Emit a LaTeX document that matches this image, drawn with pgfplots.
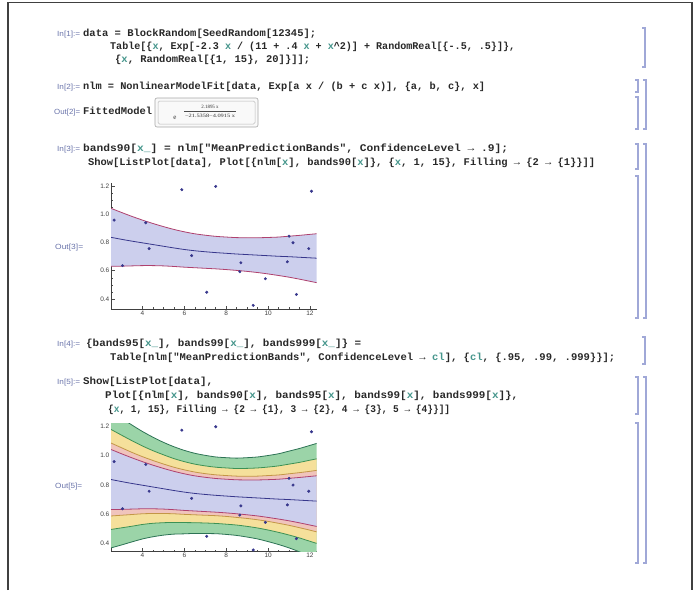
\documentclass[border=0pt]{standalone}
\usepackage{fontspec}
\setmainfont{Liberation Sans}
\setmonofont{Liberation Mono}
\newfontfamily\serifnum{Liberation Serif}
\usepackage{graphicx}
\usepackage{pgfplots}
\pgfplotsset{compat=1.18}
\usepackage{pgfplotstable}
\usepgfplotslibrary{fillbetween}

\definecolor{codecol}{RGB}{40,40,40}
\definecolor{varcol}{RGB}{70,150,140}
\definecolor{labcol}{RGB}{105,115,170}
\definecolor{brcol}{RGB}{160,168,215}
\definecolor{ptcol}{RGB}{55,55,140}
\definecolor{cln}{RGB}{55,55,140}
\definecolor{l90}{RGB}{175,65,110}
\definecolor{l95}{RGB}{195,150,70}
\definecolor{l99}{RGB}{60,145,85}
\definecolor{l999}{RGB}{45,115,85}
\definecolor{fblue}{RGB}{204,207,237}
\definecolor{fpink}{RGB}{240,196,188}
\definecolor{fyellow}{RGB}{245,224,155}
\definecolor{fgreen}{RGB}{155,212,168}

\pgfplotstableread{
x y
2.65 0.958
3.05 0.636
4.16 0.939
4.32 0.756
5.88 1.173
6.35 0.707
7.07 0.448
7.50 1.196
8.70 0.656
8.65 0.593
9.29 0.355
9.87 0.543
10.92 0.663
11.00 0.844
11.19 0.798
11.35 0.432
11.94 0.756
12.07 1.162
}\pts

\pgfplotstableread{
x f u90 l90 u95 l95 u99 l99 u999 l999
2.5 0.836 1.041 0.631 1.085 0.587 1.178 0.495 1.303 0.369
3.0 0.822 1.012 0.632 1.053 0.592 1.139 0.506 1.255 0.389
3.5 0.809 0.984 0.634 1.021 0.597 1.101 0.517 1.208 0.410
4.0 0.797 0.958 0.636 0.992 0.602 1.065 0.529 1.164 0.430
4.5 0.785 0.934 0.636 0.966 0.604 1.033 0.537 1.125 0.445
5.0 0.773 0.912 0.634 0.942 0.604 1.005 0.541 1.090 0.456
5.5 0.761 0.892 0.630 0.920 0.602 0.979 0.543 1.060 0.463
6.0 0.750 0.875 0.625 0.902 0.598 0.958 0.542 1.035 0.465
6.5 0.741 0.861 0.621 0.887 0.595 0.941 0.541 1.015 0.468
7.0 0.734 0.851 0.617 0.876 0.592 0.929 0.539 1.001 0.467
7.5 0.728 0.843 0.613 0.868 0.589 0.920 0.536 0.990 0.466
8.0 0.723 0.838 0.608 0.863 0.584 0.915 0.531 0.985 0.461
8.5 0.718 0.834 0.602 0.859 0.577 0.911 0.525 0.982 0.454
9.0 0.714 0.833 0.595 0.858 0.570 0.912 0.516 0.985 0.443
9.5 0.710 0.833 0.587 0.859 0.561 0.915 0.505 0.990 0.430
10.0 0.706 0.835 0.577 0.863 0.550 0.921 0.491 1.000 0.412
10.5 0.702 0.838 0.566 0.867 0.537 0.929 0.475 1.012 0.392
11.0 0.699 0.844 0.554 0.875 0.523 0.941 0.457 1.030 0.369
11.5 0.695 0.850 0.540 0.883 0.507 0.953 0.437 1.048 0.342
12.0 0.691 0.857 0.525 0.892 0.490 0.968 0.414 1.069 0.313
12.5 0.687 0.864 0.510 0.902 0.472 0.982 0.392 1.090 0.284
}\bands

\newcommand{\tv}[1]{\textcolor{varcol}{#1}}
\newcommand{\code}[4]{\node[anchor=mid west,inner sep=0pt,text=codecol,font=\fontsize{10.3}{12}\selectfont] at (#1bp,-#2bp) {\resizebox{#3bp}{\height}{\ttfamily\bfseries\fontsize{10.3}{12}\selectfont #4}};}
\newcommand{\lab}[4]{\node[anchor=mid west,inner sep=0pt,text=labcol,font=\fontsize{7.5}{8}\selectfont] at (#1bp,-#2bp) {\resizebox{#3bp}{\height}{#4}};}
\newcommand{\brk}[3]{\draw[brcol,line width=2.4bp] (#1bp-3bp,-#2bp) -- (#1bp,-#2bp) -- (#1bp,-#3bp) -- (#1bp-3bp,-#3bp);}

\pgfplotsset{mma/.style={
  scale only axis, anchor=south west,
  xmin=2.5, xmax=12.32,
  axis lines*=left,
  axis line style={black!75,line width=0.7bp},
  tick style={black!70,line width=0.5bp},
  tick align=inside,
  major tick length=3.5bp, minor tick length=2bp,
  xtick={4,6,8,10,12}, ytick={0.4,0.6,0.8,1.0,1.2},
  minor x tick num=3, minor y tick num=3,
  tick label style={font=\fontsize{6.5}{7}\selectfont, text=black!75, inner sep=1.5pt},
  /pgf/number format/assume math mode=true,
  yticklabel style={/pgf/number format/.cd, fixed, fixed zerofill, precision=1},
  clip=true,
}}

\begin{document}
\begin{tikzpicture}
\path (0,0) rectangle (698bp,-590bp);
\draw[black!75,line width=1.3bp] (8bp,-590bp) -- (8bp,-2.7bp) -- (692bp,-2.7bp) -- (692bp,-590bp);

% cell 1
\lab{57}{34}{23}{In[1]:=}
\code{83}{34}{233}{data = BlockRandom[SeedRandom[12345];}
\code{110}{47}{405}{Table[\{\tv{x}, Exp[-2.3 \tv{x} / (11 + .4 \tv{x} + \tv{x}\^{}2)] + RandomReal[\{-.5, .5\}]\},}
\code{115}{60}{195}{\{\tv{x}, RandomReal[\{1, 15\}, 20]\}]];}
% cell 2
\lab{57}{87}{23}{In[2]:=}
\code{83}{87}{402}{nlm = NonlinearModelFit[data, Exp[a x / (b + c x)], \{a, b, c\}, x]}
\lab{54}{112}{26}{Out[2]=}
\code{83}{112}{69}{FittedModel}
\draw[gray!70,line width=0.6bp,rounded corners=2bp,fill=gray!5] (155bp,-98bp) rectangle (258bp,-127bp);
\draw[gray!55,line width=0.5bp,rounded corners=1.5bp] (158bp,-101bp) rectangle (255bp,-124bp);
\node[font=\serifnum\fontsize{7}{8}\selectfont,text=black!80,inner sep=0pt] at (175bp,-118bp) {e};
\node[font=\serifnum\fontsize{5}{6}\selectfont,text=black!80,inner sep=0pt] at (210bp,-107bp) {2.1895 x};
\draw[black!70,line width=0.3bp] (184bp,-111bp) -- (236bp,-111bp);
\node[font=\serifnum\fontsize{5}{6}\selectfont,text=black!80,inner sep=0pt] at (210bp,-115.5bp) {\resizebox{50bp}{\height}{−21.5358−4.0915 x}};
% cell 3
\lab{57}{149}{23}{In[3]:=}
\code{83}{149}{425}{bands90[\tv{x\_}] = nlm["MeanPredictionBands", ConfidenceLevel → .9];}
\code{88}{162.5}{507}{Show[ListPlot[data], Plot[\{nlm[\tv{x}], bands90[\tv{x}]\}, \{\tv{x}, 1, 15\}, Filling → \{2 → \{1\}\}]]}
\lab{55}{247}{28}{Out[3]=}
% cell 4
\lab{57}{344}{23}{In[4]:=}
\code{86}{344}{275}{\{bands95[\tv{x\_}], bands99[\tv{x\_}], bands999[\tv{x\_}]\} =}
\code{110}{357.5}{505}{Table[nlm["MeanPredictionBands", ConfidenceLevel → \tv{cl}], \{\tv{cl}, \{.95, .99, .999\}\}];}
% cell 5
\lab{57}{382}{23}{In[5]:=}
\code{83}{382}{130}{Show[ListPlot[data],}
\code{105}{396}{413}{Plot[\{nlm[\tv{x}], bands90[\tv{x}], bands95[\tv{x}], bands99[\tv{x}], bands999[\tv{x}]\},}
\code{108}{410}{342}{\{\tv{x}, 1, 15\}, Filling → \{2 → \{1\}, 3 → \{2\}, 4 → \{3\}, 5 → \{4\}\}]]}
\lab{55}{486}{27}{Out[5]=}

% brackets
\brk{645}{28}{67}
\brk{638}{80}{92}
\brk{638}{97}{129}
\brk{646}{80}{129}
\brk{638}{144}{169}
\brk{638}{176}{318}
\brk{646}{144}{318}
\brk{645}{337}{364}
\brk{638}{377}{414}
\brk{638}{423}{563}
\brk{646}{377}{563}

% plot 1
\begin{axis}[mma, at={(111bp,-309.3bp)}, width=205.7bp, height=126bp, ymin=0.327, ymax=1.218]
\addplot[name path=U, draw=none, smooth] table[x=x,y=u90]{\bands};
\addplot[name path=L, draw=none, smooth] table[x=x,y=l90]{\bands};
\addplot[fill=fblue, draw=none] fill between[of=U and L];
\addplot[l90, line width=0.8bp, smooth] table[x=x,y=u90]{\bands};
\addplot[l90, line width=0.8bp, smooth] table[x=x,y=l90]{\bands};
\addplot[cln, line width=0.8bp, smooth] table[x=x,y=f]{\bands};
\addplot[only marks, mark=*, mark size=1.3bp, ptcol] table[x=x,y=y]{\pts};
\end{axis}

% plot 2
\begin{axis}[mma, at={(111bp,-551.7bp)}, width=205.7bp, height=128.3bp, ymin=0.343, ymax=1.219]
\addplot[name path=U999, draw=none, smooth] table[x=x,y=u999]{\bands};
\addplot[name path=L999, draw=none, smooth] table[x=x,y=l999]{\bands};
\addplot[name path=U99, draw=none, smooth] table[x=x,y=u99]{\bands};
\addplot[name path=L99, draw=none, smooth] table[x=x,y=l99]{\bands};
\addplot[name path=U95, draw=none, smooth] table[x=x,y=u95]{\bands};
\addplot[name path=L95, draw=none, smooth] table[x=x,y=l95]{\bands};
\addplot[name path=U90, draw=none, smooth] table[x=x,y=u90]{\bands};
\addplot[name path=L90, draw=none, smooth] table[x=x,y=l90]{\bands};
\addplot[fill=fgreen, draw=none] fill between[of=U999 and L999];
\addplot[fill=fyellow, draw=none] fill between[of=U99 and L99];
\addplot[fill=fpink, draw=none] fill between[of=U95 and L95];
\addplot[fill=fblue, draw=none] fill between[of=U90 and L90];
\addplot[l999, line width=0.8bp, smooth] table[x=x,y=u999]{\bands};
\addplot[l999, line width=0.8bp, smooth] table[x=x,y=l999]{\bands};
\addplot[l99, line width=0.8bp, smooth] table[x=x,y=u99]{\bands};
\addplot[l99, line width=0.8bp, smooth] table[x=x,y=l99]{\bands};
\addplot[l95, line width=0.8bp, smooth] table[x=x,y=u95]{\bands};
\addplot[l95, line width=0.8bp, smooth] table[x=x,y=l95]{\bands};
\addplot[l90, line width=0.8bp, smooth] table[x=x,y=u90]{\bands};
\addplot[l90, line width=0.8bp, smooth] table[x=x,y=l90]{\bands};
\addplot[cln, line width=0.8bp, smooth] table[x=x,y=f]{\bands};
\addplot[only marks, mark=*, mark size=1.3bp, ptcol] table[x=x,y=y]{\pts};
\end{axis}
\end{tikzpicture}
\end{document}
